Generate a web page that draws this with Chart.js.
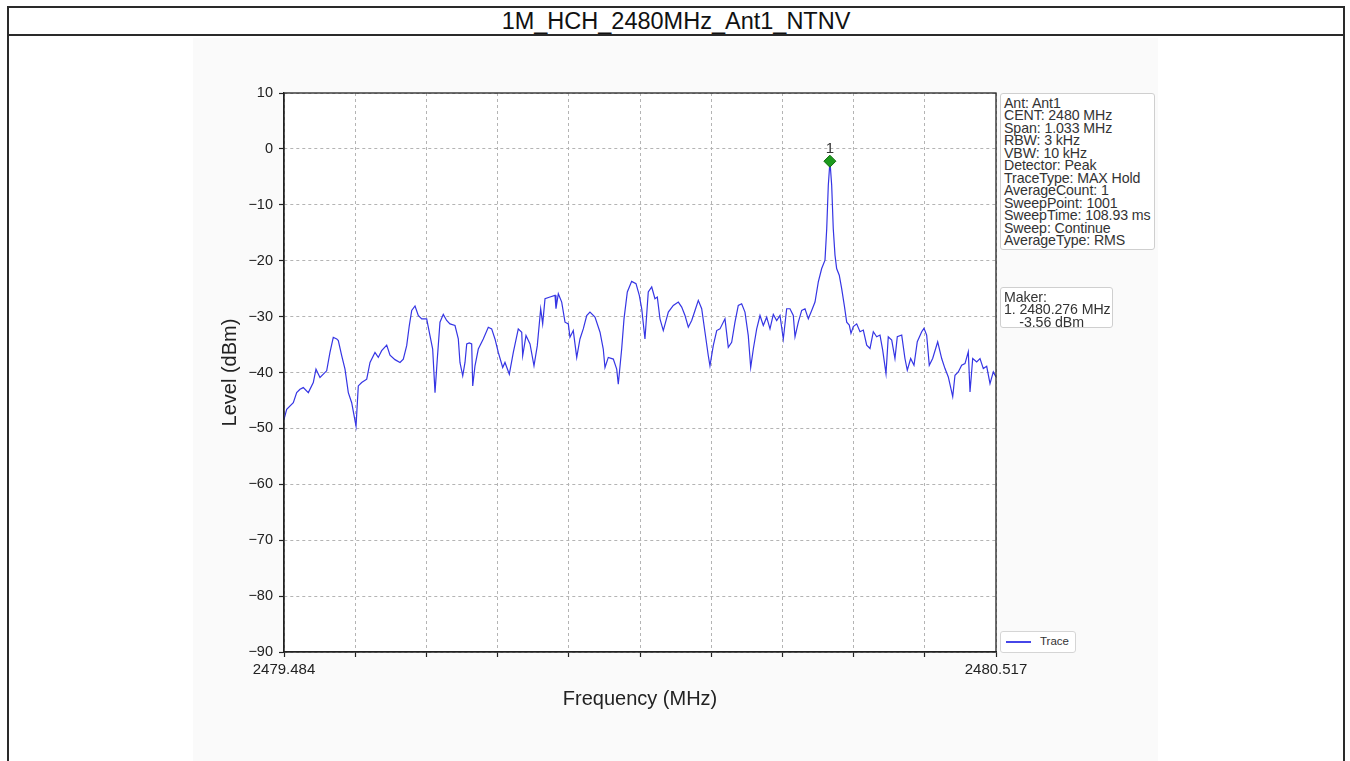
<!DOCTYPE html>
<html>
<head>
<meta charset="utf-8">
<script src="https://cdn.jsdelivr.net/npm/chart.js@4/dist/chart.umd.min.js"></script>
<style>
  html, body { margin:0; padding:0; background:#fff; }
  body { width:1350px; height:761px; position:relative; overflow:hidden; font-family:"Liberation Sans", Arial, sans-serif; }
  #frame { position:absolute; left:7px; top:6px; width:1338px; height:800px; border:2px solid #2a2a2a; box-sizing:border-box; }
  #titleSep { position:absolute; left:7px; top:34px; width:1338px; height:0; border-top:2px solid #2a2a2a; }
  #title { position:absolute; left:7px; top:8px; width:1338px; height:26px; line-height:26px; text-align:center; font-size:23.5px; color:#111; }
  #figbg { position:absolute; left:193px; top:38px; width:965px; height:723px; background:#fafafa; }
  #chartWrap { position:absolute; left:0; top:0; width:1350px; height:761px; }
  .box { position:absolute; background:#fff; border:1px solid #cfcfcf; border-radius:3px; box-sizing:border-box; color:#333; font-size:14.2px; line-height:12.45px; padding:3px 3px 0 3px; white-space:pre; letter-spacing:-0.1px; overflow:hidden; }
  #legend { position:absolute; left:1000px; top:631px; width:76px; height:22px; background:#fff; border:1px solid #d5d5d5; border-radius:3px; box-sizing:border-box; }
  #legend .ln { position:absolute; left:5px; top:9px; width:25px; height:0; border-top:2px solid #4646e8; }
  #legend .tx { position:absolute; left:39px; top:3px; font-size:11.5px; color:#333; }
</style>
</head>
<body>
<div id="frame"></div>
<div id="titleSep"></div>
<div id="title">1M_HCH_2480MHz_Ant1_NTNV</div>
<div id="figbg"></div>
<div id="chartWrap"><canvas id="c" width="1350" height="761"></canvas></div>
<div class="box" id="info" style="left:1000px;top:93px;width:155px;height:157px;"></div>
<div class="box" id="maker" style="left:1000px;top:287px;width:113px;height:41px;"></div>
<div id="legend"><div class="ln"></div><div class="tx">Trace</div></div>
<script>
// ---- data ----
const freqMHz = [
2479.4840,2479.4879,2479.4975,2479.5024,2479.5072,2479.5120,2479.5193,2479.5265,2479.5304,2479.5362,
2479.5459,2479.5507,2479.5555,2479.5605,2479.5628,2479.5677,2479.5725,2479.5773,2479.5822,2479.5885,
2479.5918,2479.5967,2479.6040,2479.6088,2479.6160,2479.6208,2479.6257,2479.6330,2479.6378,2479.6450,
2479.6523,2479.6571,2479.6620,2479.6658,2479.6693,2479.6741,2479.6788,2479.6838,2479.6910,2479.6958,
2479.6997,2479.7031,2479.7064,2479.7103,2479.7151,2479.7200,2479.7248,2479.7321,2479.7369,2479.7393,
2479.7433,2479.7466,2479.7491,2479.7528,2479.7563,2479.7578,2479.7611,2479.7659,2479.7731,2479.7804,
2479.7853,2479.7901,2479.7949,2479.8013,2479.8046,2479.8109,2479.8167,2479.8239,2479.8289,2479.8303,
2479.8351,2479.8409,2479.8467,2479.8515,2479.8564,2479.8593,2479.8627,2479.8699,2479.8772,2479.8786,
2479.8820,2479.8869,2479.8917,2479.8965,2479.8989,2479.9037,2479.9087,2479.9134,2479.9182,2479.9232,
2479.9279,2479.9352,2479.9425,2479.9472,2479.9497,2479.9545,2479.9618,2479.9667,2479.9690,2479.9739,
2479.9773,2479.9821,2479.9884,2479.9947,2479.9995,2480.0030,2480.0077,2480.0125,2480.0175,2480.0222,
2480.0256,2480.0295,2480.0343,2480.0416,2480.0488,2480.0561,2480.0610,2480.0658,2480.0706,2480.0755,
2480.0803,2480.0851,2480.0900,2480.0948,2480.0996,2480.1020,2480.1068,2480.1118,2480.1165,2480.1238,
2480.1286,2480.1335,2480.1383,2480.1431,2480.1480,2480.1528,2480.1576,2480.1611,2480.1649,2480.1698,
2480.1746,2480.1794,2480.1843,2480.1891,2480.1939,2480.1988,2480.2036,2480.2084,2480.2133,2480.2181,
2480.2229,2480.2254,2480.2302,2480.2351,2480.2399,2480.2447,2480.2496,2480.2544,2480.2592,2480.2641,
2480.2689,2480.2714,2480.2737,2480.2761,2480.2786,2480.2809,2480.2834,2480.2858,2480.2896,2480.2931,
2480.2969,2480.3004,2480.3041,2480.3066,2480.3100,2480.3149,2480.3197,2480.3245,2480.3294,2480.3342,
2480.3390,2480.3439,2480.3487,2480.3526,2480.3574,2480.3607,2480.3657,2480.3704,2480.3738,2480.3802,
2480.3849,2480.3883,2480.3932,2480.3980,2480.4028,2480.4092,2480.4125,2480.4164,2480.4202,2480.4251,
2480.4324,2480.4382,2480.4430,2480.4478,2480.4542,2480.4575,2480.4623,2480.4672,2480.4720,2480.4768,
2480.4793,2480.4832,2480.4890,2480.4938,2480.4986,2480.5035,2480.5083,2480.5131,2480.5170
];
const levelDBm = [
-48.4,-46.6,-45.4,-43.6,-43.0,-42.7,-43.6,-41.8,-39.4,-40.9,
-39.7,-36.4,-33.7,-34.0,-34.3,-37.0,-39.4,-43.6,-45.4,-49.6,
-42.4,-41.8,-41.2,-38.2,-36.4,-37.3,-36.1,-35.1,-36.9,-37.7,
-38.2,-37.6,-35.2,-31.6,-28.9,-28.1,-29.8,-30.4,-30.4,-33.4,
-35.8,-43.6,-37.6,-31.0,-29.6,-30.7,-31.3,-31.6,-34.0,-38.2,
-40.6,-38.2,-34.9,-34.7,-34.9,-42.4,-38.8,-35.8,-34.0,-31.9,
-32.2,-34.0,-36.4,-39.1,-38.2,-40.3,-36.4,-32.2,-32.8,-37.0,
-33.4,-34.9,-38.8,-35.2,-28.6,-31.3,-26.8,-26.5,-26.2,-28.6,
-25.9,-27.4,-31.0,-31.3,-33.7,-32.5,-37.3,-34.0,-32.2,-29.8,
-29.2,-30.1,-32.8,-35.8,-39.1,-37.3,-37.6,-39.4,-42.1,-35.8,
-30.4,-25.6,-23.7,-24.1,-26.2,-28.6,-34.0,-25.6,-24.7,-26.8,
-26.5,-30.4,-32.5,-29.2,-28.0,-27.4,-28.3,-29.8,-31.9,-30.7,
-28.9,-27.1,-28.6,-32.8,-37.0,-38.8,-35.2,-32.5,-32.2,-30.4,
-35.5,-34.6,-31.0,-28.0,-27.7,-29.2,-33.4,-39.1,-35.8,-32.2,
-29.8,-31.6,-30.1,-32.2,-29.6,-30.7,-29.8,-34.0,-28.6,-28.6,
-29.8,-33.6,-31.0,-28.9,-28.6,-30.4,-28.9,-27.4,-23.8,-21.4,
-19.9,-14.3,-6.5,-2.2,-6.5,-14.3,-19.0,-21.4,-22.6,-25.0,
-28.0,-31.0,-31.5,-33.0,-31.8,-31.3,-32.7,-32.4,-35.1,-35.7,
-32.7,-33.6,-33.3,-36.0,-40.2,-33.6,-34.2,-37.5,-33.6,-33.3,
-37.5,-39.6,-37.5,-38.7,-34.5,-32.7,-32.1,-33.3,-38.7,-37.5,
-34.5,-37.5,-39.3,-40.8,-44.3,-40.5,-39.9,-38.7,-38.4,-36.3,
-43.5,-37.5,-38.1,-37.5,-39.3,-38.9,-42.0,-39.9,-40.8
];
const markerFreq = [2480.276];
const markerLevel = [-2.2];
const markerNames = ["1"];
const xTickValues = [2479.484,2479.5873,2479.6906,2479.7939,2479.8972,2480.0005,2480.1038,2480.2071,2480.3104,2480.4137,2480.517];
const xTickLabels = ["2479.484","","","","","","","","","","2480.517"];
const yTickValues = [10,0,-10,-20,-30,-40,-50,-60,-70,-80,-90];
const infoLines = ["Ant: Ant1","CENT: 2480 MHz","Span: 1.033 MHz","RBW: 3 kHz","VBW: 10 kHz","Detector: Peak","TraceType: MAX Hold","AverageCount: 1","SweepPoint: 1001","SweepTime: 108.93 ms","Sweep: Continue","AverageType: RMS"];
const makerLines = ["Maker:","1. 2480.276 MHz","    -3.56 dBm"];

document.getElementById('info').textContent = infoLines.join('\n');
document.getElementById('maker').textContent = makerLines.join('\n');

const FONT = '"Liberation Sans", Arial, sans-serif';
const gridCommon = {
  color: '#b4b4b4',
  lineWidth: 1,
  drawTicks: true,
  tickLength: 5,
  tickColor: '#222',
  tickWidth: 1.2,
  tickBorderDash: []
};
const borderCommon = { display: true, color: '#222', width: 1.3, dash: [3, 3] };

const framePlugin = {
  id: 'frame',
  beforeDraw(chart) {
    const {ctx, chartArea: a} = chart;
    ctx.save();
    ctx.fillStyle = '#ffffff';
    ctx.fillRect(a.left, a.top, a.right - a.left, a.bottom - a.top);
    ctx.restore();
  },
  afterDraw(chart) {
    const {ctx, chartArea: a} = chart;
    ctx.save();
    ctx.strokeStyle = '#222';
    ctx.lineWidth = 1.3;
    ctx.setLineDash([]);
    ctx.strokeRect(a.left, a.top, a.right - a.left, a.bottom - a.top);
    const xs = chart.scales.x, ys = chart.scales.y;
    ctx.fillStyle = '#333';
    ctx.font = '15px ' + FONT;
    ctx.textAlign = 'center';
    ctx.textBaseline = 'bottom';
    markerFreq.forEach((f, i) => {
      ctx.fillText(markerNames[i], xs.getPixelForValue(f), ys.getPixelForValue(markerLevel[i]) - 5);
    });
    ctx.restore();
  }
};

new Chart(document.getElementById('c'), {
  type: 'line',
  data: {
    datasets: [
      {
        label: 'Marker',
        data: markerFreq.map((f, i) => ({x: f, y: markerLevel[i]})),
        showLine: false,
        pointStyle: 'rectRot',
        pointRadius: 6,
        backgroundColor: '#1d9a1d',
        borderColor: '#0f6e0f',
        borderWidth: 1,
        clip: false
      },
      {
        label: 'Trace',
        data: freqMHz.map((f, i) => ({x: f, y: levelDBm[i]})),
        borderColor: '#3535e4',
        borderWidth: 1.2,
        pointRadius: 0,
        tension: 0,
        fill: false
      }
    ]
  },
  options: {
    responsive: false,
    animation: false,
    layout: { padding: { left: 214, right: 354, top: 93, bottom: 46 } },
    plugins: { legend: { display: false }, tooltip: { enabled: false } },
    scales: {
      x: {
        type: 'linear',
        min: 2479.484,
        max: 2480.517,
        afterFit(s) { s.height = 63; },
        afterBuildTicks(s) { s.ticks = xTickValues.map(v => ({value: v})); },
        grid: gridCommon,
        border: borderCommon,
        ticks: {
          autoSkip: false,
          maxRotation: 0,
          padding: 4,
          color: '#222',
          font: { family: FONT, size: 15 },
          callback: (v, i) => xTickLabels[i]
        },
        title: { display: true, text: 'Frequency (MHz)', color: '#222', font: { family: FONT, size: 20 } }
      },
      y: {
        type: 'linear',
        min: -90,
        max: 10,
        afterFit(s) { s.width = 70; },
        afterBuildTicks(s) { s.ticks = yTickValues.map(v => ({value: v})); },
        grid: gridCommon,
        border: borderCommon,
        ticks: {
          padding: 6,
          color: '#222',
          font: { family: FONT, size: 14.5 },
          callback: (v) => String(v).replace('-', '\u2212')
        },
        title: { display: true, text: 'Level (dBm)', color: '#222', font: { family: FONT, size: 20 } }
      }
    }
  },
  plugins: [framePlugin]
});
</script>
</body>
</html>
